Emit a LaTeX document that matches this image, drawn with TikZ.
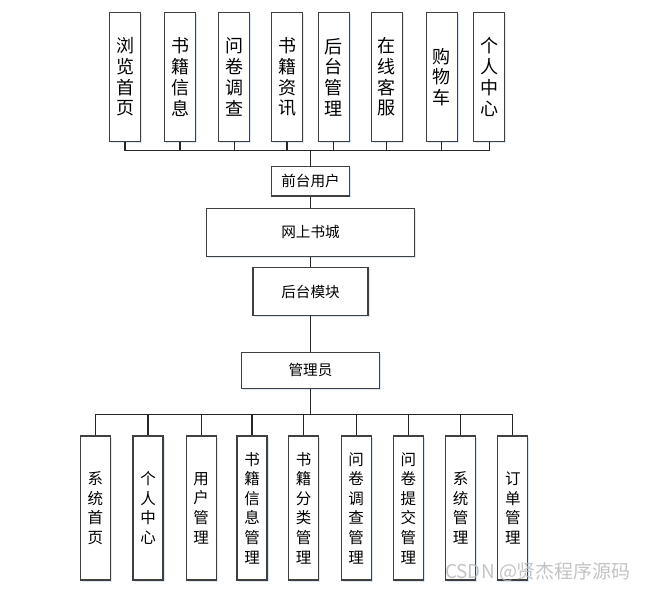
\documentclass[tikz,border=0pt]{standalone}
\usepackage{fontspec}
\setmainfont{Noto Sans CJK SC}
\usepackage{xcolor}
\definecolor{BoxLine}{rgb}{0.25, 0.25, 0.25}
\definecolor{BoxShade}{rgb}{0.86, 0.91, 0.97}
\usetikzlibrary{shadows}

\begin{document}
\begin{tikzpicture}[
    x=1pt, y=-1pt,
    % Styles
    box/.style={rectangle, draw=BoxLine, line width=1.1pt, fill=white, inner sep=0pt, drop shadow={shadow xshift=1.5pt, shadow yshift=-1.5pt, fill=BoxShade, opacity=1}},
    topitem/.style={box, minimum width=31pt, minimum height=129pt, align=center, font=\fontsize{18}{20.7}\selectfont},
    subitem/.style={box, minimum width=30pt, minimum height=144pt, align=center, font=\fontsize{15.5}{19.6}\selectfont},
    hub/.style={box, font=\fontsize{14.6}{16}\selectfont},
    wire/.style={draw=black!85, line width=1.1pt}
]
    \useasboundingbox (0,0) rectangle (649,592);

    % 1. FRONT-END FUNCTIONS
    \node[topitem] (browse) at (125,77) {浏\\览\\首\\页};
    \node[topitem] (bookinfo) at (180,77) {书\\籍\\信\\息};
    \node[topitem] (survey) at (234.2,77) {问\\卷\\调\\查};
    \node[topitem] (booknews) at (287,77) {书\\籍\\资\\讯};
    \node[topitem] (backend) at (333.8,77) {后\\台\\管\\理};
    \node[topitem] (service) at (386.8,77) {在\\线\\客\\服};
    \node[topitem] (cart) at (441.7,77) {购\\物\\车};
    \node[topitem] (mine) at (489.3,77) {个\\人\\中\\心};

    % 2. MAIN CHAIN
    \node[hub, minimum width=77.6pt, minimum height=29.3pt] (frontuser) at (310.5,181.3) {前台用户};
    \node[hub, minimum width=207.6pt, minimum height=47.7pt] (shop) at (310.5,232.2) {网上书城};
    \node[hub, minimum width=115pt, minimum height=48pt] (backmod) at (310.5,291.7) {后台模块};
    \node[hub, minimum width=137.6pt, minimum height=36pt] (admin) at (310.5,370.3) {管理员};

    % 3. BACK-END FUNCTIONS
    \node[subitem] (syshome) at (95.4,508) {系\\统\\首\\页};
    \node[subitem] (profile) at (148,508) {个\\人\\中\\心};
    \node[subitem] (usermgr) at (201.2,508) {用\\户\\管\\理};
    \node[subitem] (bookmgr) at (252,508) {书\\籍\\信\\息\\管\\理};
    \node[subitem] (catmgr) at (303.5,508) {书\\籍\\分\\类\\管\\理};
    \node[subitem] (surveymgr) at (356.2,508) {问\\卷\\调\\查\\管\\理};
    \node[subitem] (submitmgr) at (408.4,508) {问\\卷\\提\\交\\管\\理};
    \node[subitem] (sysmgr) at (460.5,508) {系\\统\\管\\理};
    \node[subitem] (ordermgr) at (512.8,508) {订\\单\\管\\理};

    % 4. CONNECTORS
    \coordinate (topbus) at (310.5,150.7);
    \coordinate (subbus) at (310.5,414.7);

    % upper bus
    \draw[wire] (browse.south |- topbus) -- (mine.south |- topbus);
    \draw[wire] (browse.south) -- (browse.south |- topbus);
    \draw[wire] (bookinfo.south) -- (bookinfo.south |- topbus);
    \draw[wire] (survey.south) -- (survey.south |- topbus);
    \draw[wire] (booknews.south) -- (booknews.south |- topbus);
    \draw[wire] (backend.south) -- (backend.south |- topbus);
    \draw[wire] (service.south) -- (service.south |- topbus);
    \draw[wire] (cart.south) -- (cart.south |- topbus);
    \draw[wire] (mine.south) -- (mine.south |- topbus);
    \draw[wire] (topbus) -- (frontuser.north);

    % trunk
    \draw[wire] (frontuser.south) -- (shop.north);
    \draw[wire] (shop.south) -- (backmod.north);
    \draw[wire] (backmod.south) -- (admin.north);
    \draw[wire] (admin.south) -- (subbus);

    % lower bus
    \draw[wire] (syshome.north |- subbus) -- (ordermgr.north |- subbus);
    \draw[wire] (syshome.north |- subbus) -- (syshome.north);
    \draw[wire] (profile.north |- subbus) -- (profile.north);
    \draw[wire] (usermgr.north |- subbus) -- (usermgr.north);
    \draw[wire] (bookmgr.north |- subbus) -- (bookmgr.north);
    \draw[wire] (catmgr.north |- subbus) -- (catmgr.north);
    \draw[wire] (surveymgr.north |- subbus) -- (surveymgr.north);
    \draw[wire] (submitmgr.north |- subbus) -- (submitmgr.north);
    \draw[wire] (sysmgr.north |- subbus) -- (sysmgr.north);
    \draw[wire] (ordermgr.north |- subbus) -- (ordermgr.north);

    % watermark
    \node[text=gray!55, opacity=0.85, font=\fontsize{19}{21}\selectfont] (mark) at (538,572) {CSDN @贤杰程序源码};

\end{tikzpicture}
\end{document}
